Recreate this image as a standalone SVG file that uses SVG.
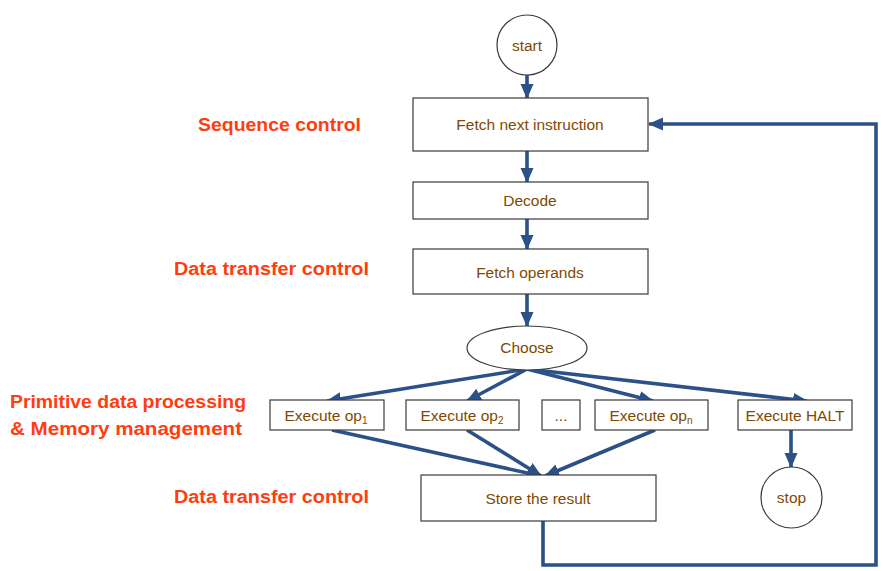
<svg xmlns="http://www.w3.org/2000/svg" width="885" height="571" viewBox="0 0 885 571">
<style>
.box{fill:#fff;stroke:#3a3a3a;stroke-width:1.2}
.t{font-family:"Liberation Sans",Arial,sans-serif;font-size:15.5px;fill:#7f4a00;text-anchor:middle}
.lbl{font-family:"Liberation Sans",Arial,sans-serif;font-size:18px;font-weight:bold;fill:#ff3d10}
.c{fill:none;stroke:#2b5188;stroke-width:3.6}
</style>
<defs>
<marker id="ah" markerUnits="userSpaceOnUse" markerWidth="16" markerHeight="16" viewBox="0 0 16 16" refX="14" refY="8" orient="auto">
<path d="M0,1.5 L15,8 L0,14.5 Z" fill="#2b5188"/>
</marker>
</defs>
<g id="labels">
<text class="lbl" x="198" y="131" textLength="163" lengthAdjust="spacingAndGlyphs">Sequence control</text>
<text class="lbl" x="174" y="275" textLength="195" lengthAdjust="spacingAndGlyphs">Data transfer control</text>
<text class="lbl" x="10" y="408" textLength="236" lengthAdjust="spacingAndGlyphs">Primitive data processing</text>
<text class="lbl" x="10" y="435" textLength="232" lengthAdjust="spacingAndGlyphs">&amp; Memory management</text>
<text class="lbl" x="174" y="503" textLength="195" lengthAdjust="spacingAndGlyphs">Data transfer control</text>
</g>
<g id="connectors">
<line class="c" x1="527" y1="75" x2="527" y2="98" marker-end="url(#ah)"/>
<line class="c" x1="527" y1="151" x2="527" y2="182" marker-end="url(#ah)"/>
<line class="c" x1="527" y1="219" x2="527" y2="249" marker-end="url(#ah)"/>
<line class="c" x1="527" y1="294" x2="527" y2="326" marker-end="url(#ah)"/>
<line class="c" x1="527" y1="369" x2="327" y2="401" marker-end="url(#ah)"/>
<line class="c" x1="527" y1="369" x2="467" y2="401" marker-end="url(#ah)"/>
<line class="c" x1="527" y1="369" x2="653" y2="401" marker-end="url(#ah)"/>
<line class="c" x1="527" y1="369" x2="807" y2="401" marker-end="url(#ah)"/>
<line class="c" x1="332" y1="430" x2="541" y2="476" marker-end="url(#ah)"/>
<line class="c" x1="467" y1="430" x2="541" y2="476" marker-end="url(#ah)"/>
<line class="c" x1="655" y1="430" x2="545" y2="476" marker-end="url(#ah)"/>
<line class="c" x1="791" y1="430" x2="791" y2="467" marker-end="url(#ah)"/>
<polyline class="c" points="543,521 543,565 876,565 876,124 649,124" marker-end="url(#ah)"/>
</g>
<g id="start"><circle class="box" cx="527" cy="45" r="30"/><text class="t" x="527" y="51">start</text></g>
<g id="fetch"><rect class="box" x="413" y="98" width="235" height="53"/><text class="t" x="530" y="130">Fetch next instruction</text></g>
<g id="decode"><rect class="box" x="413" y="182" width="235" height="37"/><text class="t" x="530" y="206">Decode</text></g>
<g id="operands"><rect class="box" x="413" y="249" width="235" height="45"/><text class="t" x="530" y="278">Fetch operands</text></g>
<g id="choose"><ellipse class="box" cx="527" cy="348" rx="60" ry="22"/><text class="t" x="527" y="353">Choose</text></g>
<g id="op1"><rect class="box" x="270" y="400" width="114" height="30"/><text class="t" x="326" y="421">Execute op<tspan font-size="10" dy="3">1</tspan></text></g>
<g id="op2"><rect class="box" x="406" y="400" width="113" height="30"/><text class="t" x="462" y="421">Execute op<tspan font-size="10" dy="3">2</tspan></text></g>
<g id="dots"><rect class="box" x="542" y="400" width="38" height="30"/><text class="t" x="561" y="421">...</text></g>
<g id="opn"><rect class="box" x="595" y="400" width="113" height="30"/><text class="t" x="651" y="421">Execute op<tspan font-size="10" dy="3">n</tspan></text></g>
<g id="halt"><rect class="box" x="738" y="400" width="114" height="30"/><text class="t" x="795" y="421">Execute HALT</text></g>
<g id="store"><rect class="box" x="421" y="475" width="235" height="46"/><text class="t" x="538" y="504">Store the result</text></g>
<g id="stop"><circle class="box" cx="791.5" cy="497.5" r="30.5"/><text class="t" x="791.5" y="503">stop</text></g>
</svg>
